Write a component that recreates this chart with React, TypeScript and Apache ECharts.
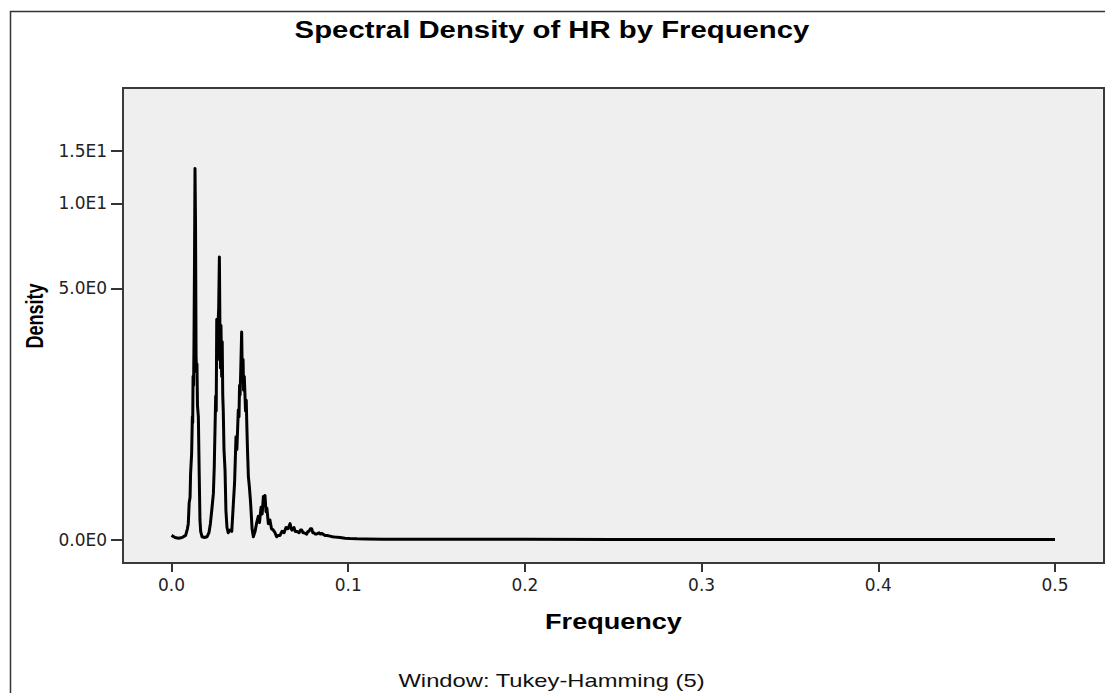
import React, { useEffect, useRef } from "react";
import * as echarts from "echarts";

// ---- Data ----
const frequency = [
  0.0, 0.002, 0.004, 0.006, 0.008, 0.009, 0.0095, 0.01, 0.0105, 0.0108,
  0.0114, 0.0118, 0.012, 0.0122, 0.0125, 0.0127, 0.013, 0.0133, 0.0136, 0.0139,
  0.0142, 0.0144, 0.0147, 0.0152, 0.0157, 0.0161, 0.0165, 0.0173, 0.0187, 0.0201,
  0.0212, 0.022, 0.0229, 0.0237, 0.0242, 0.025, 0.0253, 0.0256, 0.0259, 0.0263,
  0.0267, 0.0271, 0.0274, 0.0277, 0.028, 0.0284, 0.0287, 0.029, 0.0293, 0.0297,
  0.0303, 0.0308, 0.0314, 0.0321, 0.0331, 0.0341, 0.035, 0.0357, 0.0365, 0.037,
  0.0378, 0.0382, 0.0385, 0.0388, 0.0392, 0.0397, 0.0401, 0.0405, 0.0408, 0.0412,
  0.0416, 0.0419, 0.0423, 0.0426, 0.043, 0.0435, 0.0441, 0.0448, 0.0456, 0.0463,
  0.0473, 0.0481, 0.0491, 0.0498, 0.0507, 0.0513, 0.052, 0.0525, 0.0529, 0.0535,
  0.054, 0.0548, 0.0557, 0.0566, 0.0576, 0.0586, 0.0595, 0.0604, 0.0614, 0.0625,
  0.0637, 0.0648, 0.0659, 0.0665, 0.0671, 0.0677, 0.0682, 0.0693, 0.07, 0.0709,
  0.0722, 0.073, 0.0737, 0.0744, 0.075, 0.0765, 0.0772, 0.0778, 0.0786, 0.0793,
  0.08, 0.0806, 0.0814, 0.0822, 0.0835, 0.0843, 0.085, 0.0869, 0.088, 0.0897,
  0.091, 0.0925, 0.0954, 0.0982, 0.101, 0.105, 0.11, 0.12, 0.14, 0.17,
  0.2, 0.25, 0.3, 0.35, 0.4, 0.45, 0.5,
];
const density = [
  0.03, 0.015, 0.01, 0.015, 0.03, 0.08, 0.12, 0.3, 0.35, 0.6,
  0.85, 1.4, 1.3, 2.2, 2.0, 2.9, 6.0, 13.1, 8.5, 2.7,
  2.3, 2.5, 1.6, 1.4, 0.57, 0.15, 0.06, 0.02, 0.015, 0.02,
  0.05, 0.12, 0.25, 0.39, 0.68, 1.78, 1.5, 3.8, 2.6, 3.6,
  4.2, 6.5, 3.5, 2.4, 3.6, 2.2, 3.1, 1.8, 1.5, 0.9,
  0.64, 0.23, 0.09, 0.05, 0.07, 0.06, 0.29, 0.5, 1.08, 0.9,
  1.52, 1.4, 2.0, 1.8, 2.36, 3.39, 2.1, 2.61, 1.9, 2.2,
  1.78, 1.5, 1.7, 1.29, 0.9, 0.57, 0.45, 0.29, 0.08, 0.02,
  0.06, 0.12, 0.18, 0.13, 0.26, 0.2, 0.36, 0.28, 0.37, 0.22,
  0.25, 0.12, 0.15, 0.08, 0.07, 0.05, 0.02, 0.03, 0.03, 0.06,
  0.05, 0.09, 0.08, 0.1, 0.12, 0.08, 0.07, 0.09, 0.06, 0.06,
  0.05, 0.07, 0.07, 0.05, 0.05, 0.04, 0.06, 0.06, 0.08, 0.08,
  0.05, 0.05, 0.04, 0.04, 0.05, 0.04, 0.045, 0.03, 0.03, 0.025,
  0.02, 0.018, 0.015, 0.01, 0.007, 0.005, 0.004, 0.003, 0.002, 0.002,
  0.0015, 0.001, 0.001, 0.001, 0.001, 0.001, 0.001,
];
const xTickValues = [0, 0.1, 0.2, 0.3, 0.4, 0.5];
const xTickLabels = ["0.0", "0.1", "0.2", "0.3", "0.4", "0.5"];
const yTickDensities = [0, 5, 10, 15];
const yTickLabels = ["0.0E0", "5.0E0", "1.0E1", "1.5E1"];
const titleText = "Spectral Density of HR by Frequency";
const xAxisName = "Frequency";
const yAxisName = "Density";
const footnoteText = "Window: Tukey-Hamming (5)";

// SPSS draws this density axis on a log(1 + v) scale
const toScale = (v: number) => Math.log1p(v);
const yTickValues = yTickDensities.map(toScale);

const X_MIN = -0.02745;
const X_MAX = 0.52773;
const Y_MIN = -0.1671;
const Y_MAX = 3.22;

function nearestLabel(values: number[], labels: string[], v: number) {
  let best = 0;
  for (let i = 1; i < values.length; i++) {
    if (Math.abs(values[i] - v) < Math.abs(values[best] - v)) best = i;
  }
  return labels[best];
}

export default function App() {
  const ref = useRef<HTMLDivElement>(null);

  useEffect(() => {
    if (!ref.current) return;
    const chart = echarts.init(ref.current, undefined, { renderer: "svg" });
    const seriesData = frequency.map((f, i) => [f, toScale(density[i])]);

    chart.setOption({
      animation: false,
      backgroundColor: "#ffffff",
      grid: {
        left: 123,
        top: 88,
        width: 981,
        height: 475,
        show: true,
        backgroundColor: "#efefef",
        borderColor: "#3a3a3a",
        borderWidth: 2,
        containLabel: false,
      },
      xAxis: {
        type: "value",
        min: X_MIN,
        max: X_MAX,
        axisLine: { show: false, onZero: false },
        splitLine: { show: false },
        axisTick: {
          show: true,
          customValues: xTickValues,
          length: 9,
          lineStyle: { color: "#333", width: 2 },
        },
        axisLabel: {
          customValues: xTickValues,
          margin: 13,
          color: "#222",
          fontFamily: "DejaVu Sans",
          fontSize: 17,
          formatter: (v: number) => nearestLabel(xTickValues, xTickLabels, v),
        },
      },
      yAxis: {
        type: "value",
        min: Y_MIN,
        max: Y_MAX,
        axisLine: { show: false, onZero: false },
        splitLine: { show: false },
        axisTick: {
          show: true,
          customValues: yTickValues,
          length: 12,
          lineStyle: { color: "#333", width: 2 },
        },
        axisLabel: {
          customValues: yTickValues,
          margin: 16,
          color: "#222",
          fontFamily: "DejaVu Sans",
          fontSize: 17,
          formatter: (v: number) => nearestLabel(yTickValues, yTickLabels, v),
        },
      },
      graphic: [
        {
          type: "rect",
          silent: true,
          shape: { x: 10.5, y: 11.5, width: 1120, height: 720 },
          style: { fill: "none", stroke: "#333", lineWidth: 1.5 },
        },
        {
          type: "text",
          x: 552,
          y: 30,
          scaleX: 1.275,
          style: {
            text: titleText,
            fill: "#000",
            fontFamily: "Liberation Sans",
            fontWeight: "bold",
            fontSize: 23,
            align: "center",
            verticalAlign: "middle",
          },
        },
        {
          type: "text",
          x: 613.5,
          y: 621.5,
          scaleX: 1.23,
          style: {
            text: xAxisName,
            fill: "#000",
            fontFamily: "Liberation Sans",
            fontWeight: "bold",
            fontSize: 22,
            align: "center",
            verticalAlign: "middle",
          },
        },
        {
          type: "text",
          x: 35,
          y: 316,
          rotation: Math.PI / 2,
          scaleY: 1.3,
          style: {
            text: yAxisName,
            fill: "#000",
            fontFamily: "Liberation Sans",
            fontWeight: "bold",
            fontSize: 18,
            align: "center",
            verticalAlign: "middle",
          },
        },
        {
          type: "text",
          x: 551.5,
          y: 681,
          scaleX: 1.25,
          style: {
            text: footnoteText,
            fill: "#111",
            fontFamily: "Liberation Sans",
            fontSize: 19,
            align: "center",
            verticalAlign: "middle",
          },
        },
      ],
      series: [
        {
          type: "line",
          data: seriesData,
          showSymbol: false,
          symbol: "none",
          clip: true,
          lineStyle: { color: "#000", width: 3, join: "round" },
        },
      ],
    });

    return () => chart.dispose();
  }, []);

  return (
    <div
      ref={ref}
      style={{
        position: "fixed",
        left: 0,
        top: 0,
        width: 1105,
        height: 693,
        background: "#fff",
      }}
    />
  );
}
